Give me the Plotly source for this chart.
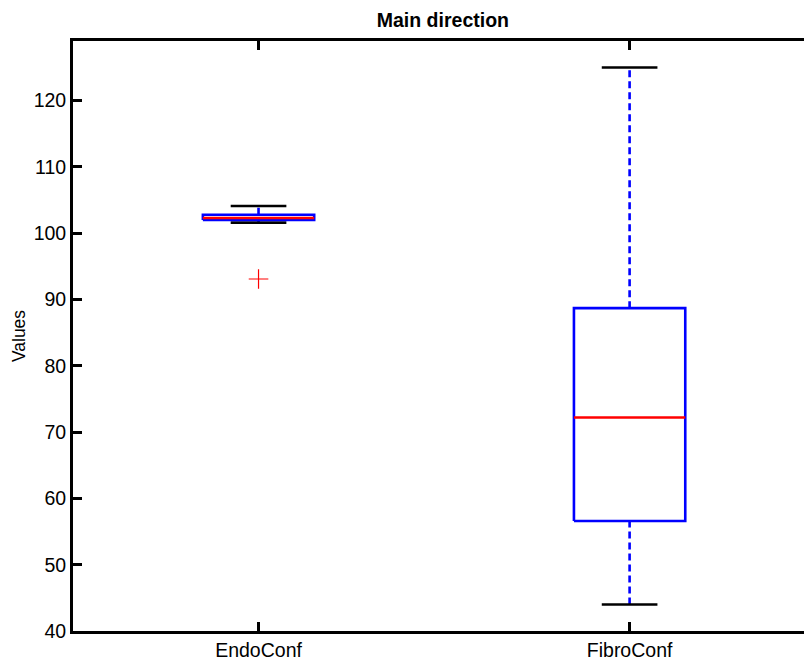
import plotly.graph_objects as go

# Box statistics per group
groups = ["EndoConf", "FibroConf"]
positions = [1, 2]
lower_whisker = [101.6, 44.0]
q1 = [102.0, 56.6]
median = [102.3, 72.2]
q3 = [102.8, 88.7]
upper_whisker = [104.1, 125.0]
outliers = [[93.1], []]

y_ticks = [40, 50, 60, 70, 80, 90, 100, 110, 120]

BOX_HALF = 0.15
CAP_HALF = 0.075
BLUE = "rgb(0,0,255)"
RED = "rgb(255,0,0)"
FONT = "Liberation Sans, Arial, sans-serif"

wx, wy, cx, cy, bx, by, mx, my, ox, oy = ([] for _ in range(10))
for p, lo, a, m, b, hi, outs in zip(positions, lower_whisker, q1, median, q3,
                                    upper_whisker, outliers):
    wx += [p, p, None, p, p, None]
    wy += [b, hi, None, lo, a, None]
    cx += [p - CAP_HALF, p + CAP_HALF, None, p - CAP_HALF, p + CAP_HALF, None]
    cy += [hi, hi, None, lo, lo, None]
    bx += [p - BOX_HALF, p + BOX_HALF, p + BOX_HALF, p - BOX_HALF, p - BOX_HALF, None]
    by += [a, a, b, b, a, None]
    mx += [p - BOX_HALF, p + BOX_HALF, None]
    my += [m, m, None]
    ox += [p] * len(outs)
    oy += list(outs)

fig = go.Figure()
fig.add_trace(go.Scatter(x=wx, y=wy, mode="lines",
                         line=dict(color=BLUE, width=2.6, dash="7px,4px")))
fig.add_trace(go.Scatter(x=cx, y=cy, mode="lines",
                         line=dict(color="black", width=2.6)))
fig.add_trace(go.Scatter(x=bx, y=by, mode="lines",
                         line=dict(color=BLUE, width=2.6)))
fig.add_trace(go.Scatter(x=mx, y=my, mode="lines",
                         line=dict(color=RED, width=2.6)))
fig.add_trace(go.Scatter(x=ox, y=oy, mode="markers",
                         marker=dict(symbol="cross-thin", size=14,
                                     line=dict(color=RED, width=1.2))))

fig.update_layout(
    width=804, height=660,
    margin=dict(l=73, r=0, t=41, b=29),
    paper_bgcolor="white", plot_bgcolor="white",
    showlegend=False,
    font=dict(family=FONT, size=19.5, color="black"),
    title=dict(text="<b>Main direction</b>", x=0.506, xanchor="center",
               xref="paper", y=1 - 27 / 660, yref="container", yanchor="bottom",
               font=dict(family=FONT, size=19.5, color="black")),
    xaxis=dict(range=[0.5, 2.47], tickvals=positions, ticktext=groups,
               ticks="inside", ticklen=9, tickwidth=2.6, tickcolor="black",
               showline=True, linewidth=2.8, linecolor="black", mirror="ticks",
               showgrid=False, zeroline=False),
    yaxis=dict(range=[40, 129], tickvals=y_ticks,
               ticks="inside", ticklen=9, tickwidth=2.6, tickcolor="black",
               showline=True, linewidth=2.8, linecolor="black",
               showgrid=False, zeroline=False,
               title=dict(text="Values", font=dict(family=FONT, size=17.5),
                          standoff=4)),
)

fig.write_html("out.html")
